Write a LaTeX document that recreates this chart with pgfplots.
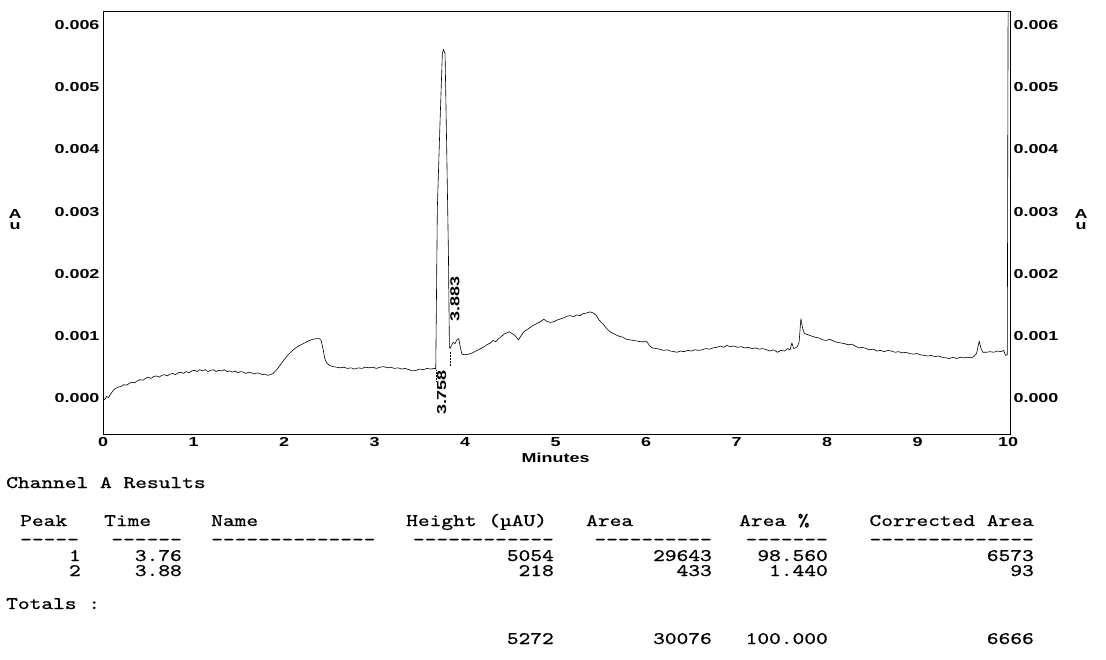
\documentclass[border=0pt]{standalone}
\usepackage{fontspec}
\usepackage{pgfplots}
\usepackage{pgfplotstable}
\pgfplotsset{compat=1.18}
\newfontfamily\tickfont{Liberation Sans}[FakeStretch=1.38]
\newfontfamily\tabfont{lmmono10-regular.otf}[FakeStretch=1.27,FakeBold=0.8,Ligatures=TeXOff]
\newcommand\tk{\tickfont\bfseries\fontsize{13}{13}\selectfont}
\newcommand\tf{\tabfont\fontsize{17.6}{17.6}\selectfont}

\pgfplotstableread{
t v
0.00 0.00000
0.02 -0.00002
0.04 0.00003
0.06 0.00001
0.08 0.00006
0.10 0.00010
0.12 0.00014
0.14 0.00016
0.17 0.00018
0.20 0.00019
0.23 0.00022
0.26 0.00021
0.29 0.00024
0.32 0.00026
0.35 0.00025
0.38 0.00028
0.41 0.00030
0.44 0.00029
0.47 0.00032
0.50 0.00034
0.53 0.00032
0.56 0.00035
0.59 0.00036
0.62 0.00034
0.65 0.00037
0.68 0.00038
0.71 0.00036
0.74 0.00039
0.77 0.00040
0.80 0.00038
0.83 0.00041
0.86 0.00042
0.89 0.00040
0.92 0.00043
0.95 0.00041
0.98 0.00044
1.01 0.00045
1.04 0.00043
1.07 0.00046
1.10 0.00044
1.13 0.00046
1.16 0.00043
1.19 0.00045
1.22 0.00046
1.25 0.00043
1.28 0.00045
1.31 0.00044
1.34 0.00046
1.37 0.00043
1.40 0.00044
1.43 0.00042
1.46 0.00044
1.49 0.00041
1.52 0.00043
1.55 0.00042
1.58 0.00040
1.61 0.00042
1.64 0.00041
1.67 0.00039
1.70 0.00041
1.73 0.00040
1.76 0.00038
1.79 0.00039
1.82 0.00037
1.85 0.00038
1.88 0.00040
1.92 0.00046
1.96 0.00054
2.00 0.00062
2.04 0.00069
2.08 0.00075
2.12 0.00080
2.16 0.00084
2.20 0.00087
2.24 0.00090
2.28 0.00093
2.32 0.00095
2.36 0.00096
2.39 0.00096
2.41 0.00093
2.43 0.00080
2.45 0.00064
2.47 0.00057
2.50 0.00053
2.54 0.00051
2.58 0.00050
2.62 0.00049
2.66 0.00050
2.70 0.00048
2.74 0.00049
2.78 0.00047
2.82 0.00049
2.86 0.00048
2.90 0.00050
2.94 0.00049
2.98 0.00050
3.02 0.00048
3.06 0.00050
3.10 0.00051
3.14 0.00049
3.18 0.00050
3.22 0.00048
3.26 0.00049
3.30 0.00047
3.34 0.00048
3.38 0.00046
3.42 0.00044
3.46 0.00045
3.50 0.00047
3.54 0.00046
3.58 0.00048
3.62 0.00047
3.66 0.00048
3.676 0.00047
3.694 0.00308
3.724 0.00447
3.749 0.00554
3.760 0.00561
3.779 0.00554
3.798 0.00393
3.816 0.00233
3.827 0.00083
3.834 0.00080
3.850 0.00085
3.870 0.00090
3.890 0.00088
3.910 0.00094
3.930 0.00096
3.950 0.00080
3.965 0.00071
4.00 0.00070
4.04 0.00071
4.08 0.00073
4.12 0.00076
4.16 0.00079
4.20 0.00082
4.24 0.00086
4.28 0.00089
4.31 0.00093
4.34 0.00091
4.37 0.00096
4.40 0.00099
4.43 0.00103
4.46 0.00105
4.49 0.00107
4.52 0.00104
4.55 0.00101
4.59 0.00094
4.62 0.00101
4.65 0.00107
4.68 0.00110
4.72 0.00114
4.75 0.00117
4.79 0.00120
4.83 0.00123
4.87 0.00127
4.90 0.00124
4.94 0.00122
4.98 0.00123
5.02 0.00126
5.06 0.00128
5.10 0.00130
5.13 0.00132
5.16 0.00133
5.20 0.00131
5.23 0.00134
5.27 0.00133
5.30 0.00136
5.34 0.00137
5.38 0.00139
5.42 0.00137
5.45 0.00133
5.48 0.00126
5.52 0.00120
5.56 0.00113
5.60 0.00107
5.64 0.00104
5.68 0.00101
5.72 0.00099
5.75 0.00098
5.78 0.00095
5.82 0.00094
5.86 0.00093
5.90 0.00092
5.94 0.00091
5.98 0.00091
6.01 0.00091
6.04 0.00084
6.07 0.00081
6.11 0.00080
6.15 0.00079
6.19 0.00077
6.23 0.00078
6.27 0.00076
6.31 0.00075
6.34 0.00074
6.38 0.00076
6.42 0.00075
6.46 0.00077
6.50 0.00076
6.54 0.00078
6.58 0.00077
6.62 0.00078
6.66 0.00080
6.70 0.00079
6.74 0.00081
6.78 0.00082
6.82 0.00084
6.86 0.00082
6.89 0.00085
6.93 0.00083
6.97 0.00084
7.01 0.00082
7.05 0.00083
7.09 0.00081
7.13 0.00082
7.17 0.00080
7.21 0.00081
7.25 0.00079
7.29 0.00080
7.33 0.00078
7.37 0.00076
7.41 0.00078
7.45 0.00074
7.49 0.00077
7.53 0.00076
7.56 0.00080
7.59 0.00078
7.61 0.00089
7.63 0.00080
7.65 0.00081
7.67 0.00083
7.69 0.00090
7.71 0.00128
7.73 0.00112
7.75 0.00104
7.79 0.00102
7.83 0.00100
7.87 0.00098
7.91 0.00097
7.95 0.00094
7.99 0.00093
8.03 0.00095
8.07 0.00092
8.11 0.00090
8.15 0.00089
8.19 0.00088
8.23 0.00086
8.27 0.00087
8.31 0.00084
8.35 0.00081
8.39 0.00082
8.43 0.00080
8.47 0.00078
8.51 0.00079
8.55 0.00076
8.59 0.00077
8.63 0.00075
8.67 0.00077
8.71 0.00076
8.75 0.00074
8.79 0.00075
8.83 0.00073
8.87 0.00074
8.91 0.00072
8.95 0.00071
8.99 0.00072
9.03 0.00070
9.07 0.00069
9.11 0.00068
9.15 0.00069
9.19 0.00067
9.23 0.00068
9.27 0.00066
9.31 0.00065
9.35 0.00064
9.39 0.00066
9.43 0.00064
9.47 0.00066
9.51 0.00065
9.55 0.00066
9.59 0.00065
9.62 0.00067
9.65 0.00072
9.68 0.00092
9.70 0.00080
9.72 0.00074
9.76 0.00074
9.80 0.00075
9.84 0.00074
9.88 0.00076
9.92 0.00075
9.95 0.00077
9.97 0.00069
9.99 0.00070
10.00 0.00700
}\trace

\begin{document}
\begin{tikzpicture}[x=1pt,y=1pt]
\path[use as bounding box] (0,0) rectangle (1106,-660);
\begin{axis}[
  at={(103pt,-434pt)}, anchor=south west,
  scale only axis, width=907pt, height=422.5pt,
  xmin=0, xmax=10.02, ymin=-0.000574, ymax=0.006219,
  xtick={0,1,2,3,4,5,6,7,8,9,10},
  ytick={0,0.001,0.002,0.003,0.004,0.005,0.006},
  scaled y ticks=false,
  yticklabel style={/pgf/number format/fixed,/pgf/number format/precision=3,/pgf/number format/fixed zerofill},
  /pgf/number format/assume math mode=true,
  tick label style={font=\tk},
  major tick length=0pt,
  axis line style={line width=0.9pt},
  xlabel=Minutes,
  every axis x label/.style={at={(axis description cs:0.499,0)}, anchor=center, yshift=-24pt, font=\tk},
]
\addplot[black, line width=0.6pt, line join=round] table[x=t,y=v] {\trace};
\node[rotate=90, font=\tk, inner sep=0] at (axis cs:3.740,0.000093) {3.758};
\node[rotate=90, font=\tk, inner sep=0] at (axis cs:3.887,0.00160) {3.883};
\draw[densely dotted, line width=0.5pt] (axis cs:3.676,0.00045) -- (axis cs:3.676,0.00026);
\draw[densely dotted, line width=0.5pt] (axis cs:3.834,0.00075) -- (axis cs:3.834,0.00052);
\end{axis}
\begin{axis}[
  at={(103pt,-434pt)}, anchor=south west,
  scale only axis, width=907pt, height=422.5pt,
  xmin=0, xmax=10.02, ymin=-0.000574, ymax=0.006219,
  axis x line=none, axis y line*=right,
  ytick={0,0.001,0.002,0.003,0.004,0.005,0.006},
  scaled y ticks=false,
  yticklabel style={/pgf/number format/fixed,/pgf/number format/precision=3,/pgf/number format/fixed zerofill},
  /pgf/number format/assume math mode=true,
  tick label style={font=\tk},
  major tick length=0pt,
  axis line style={line width=0.9pt},
]
\end{axis}
% axis unit labels
\node[font=\tk, align=center, inner sep=0] at (15,-220) {A\\[-2pt]u};
\node[font=\tk, align=center, inner sep=0] at (1081,-220) {A\\[-2pt]u};
% results table
\begin{scope}[every node/.style={inner sep=0, font=\tf}]
\node[anchor=base west] at (6,-488) {Channel A Results};
\node[anchor=base west] at (20,-526) {Peak};
\node[anchor=base west] at (104,-526) {Time};
\node[anchor=base west] at (211,-526) {Name};
\node[anchor=base west] at (406,-526) {Height (µAU)};
\node[anchor=base west] at (586,-526) {Area};
\node[anchor=base west] at (739,-526) {Area \%};
\node[anchor=base east] at (1034,-526) {Corrected Area};
\node[anchor=base west] at (20,-545) {-----};
\node[anchor=base east] at (182,-545) {------};
\node[anchor=base west] at (211,-545) {--------------};
\node[anchor=base east] at (554,-545) {------------};
\node[anchor=base east] at (712,-545) {----------};
\node[anchor=base east] at (828,-545) {-------};
\node[anchor=base east] at (1034,-545) {--------------};
\node[anchor=base east] at (81,-561) {1};
\node[anchor=base east] at (182,-561) {3.76};
\node[anchor=base east] at (554,-561) {5054};
\node[anchor=base east] at (712,-561) {29643};
\node[anchor=base east] at (828,-561) {98.560};
\node[anchor=base east] at (1034,-561) {6573};
\node[anchor=base east] at (81,-576) {2};
\node[anchor=base east] at (182,-576) {3.88};
\node[anchor=base east] at (554,-576) {218};
\node[anchor=base east] at (712,-576) {433};
\node[anchor=base east] at (828,-576) {1.440};
\node[anchor=base east] at (1034,-576) {93};
\node[anchor=base west] at (6,-609) {Totals :};
\node[anchor=base east] at (554,-644) {5272};
\node[anchor=base east] at (712,-644) {30076};
\node[anchor=base east] at (828,-644) {100.000};
\node[anchor=base east] at (1034,-644) {6666};
\end{scope}
\end{tikzpicture}
\end{document}
